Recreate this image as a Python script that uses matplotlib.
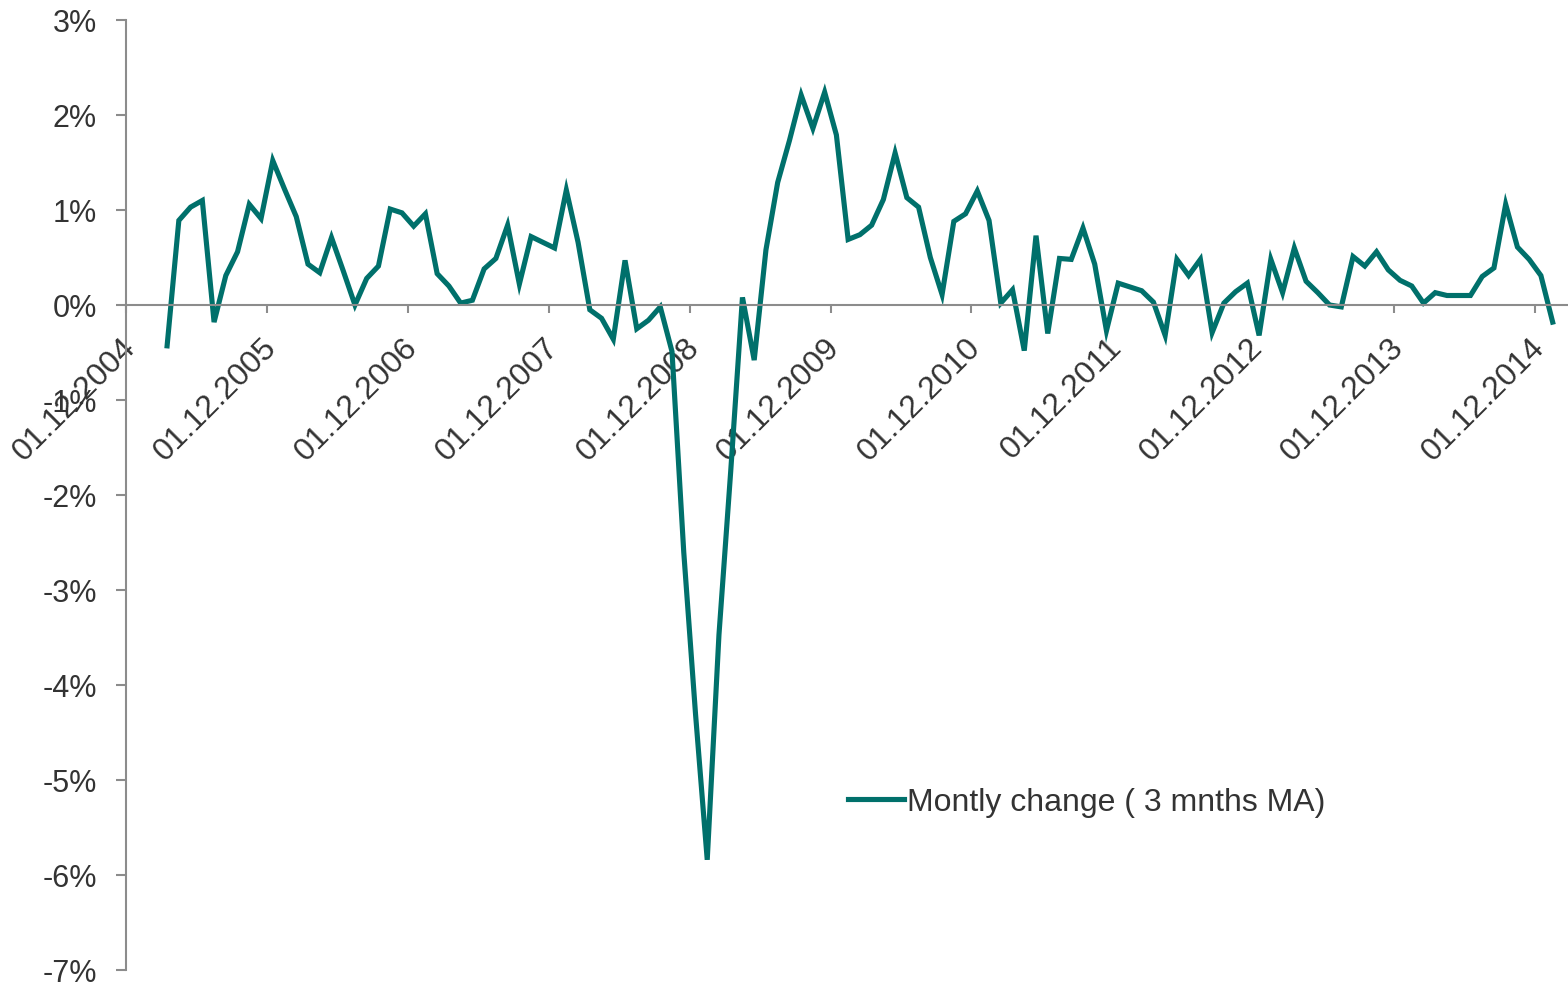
import matplotlib
matplotlib.use("Agg")
import matplotlib.pyplot as plt
import matplotlib.transforms as mtransforms
import numpy as np
import pandas as pd

plt.rcParams['font.family'] = ['Liberation Sans', 'DejaVu Sans']

# monthly observations, March 2005 .. January 2015 (percent)
dates = pd.date_range("2005-03-01", periods=119, freq="MS")
values = [
    -0.43, 0.89, 1.03, 1.10, -0.18, 0.31, 0.56, 1.06, 0.91, 1.52,
    1.22, 0.93, 0.43, 0.34, 0.71, 0.36, 0.00, 0.28, 0.41, 1.01,
    0.97, 0.83, 0.96, 0.33, 0.20, 0.02, 0.05, 0.38, 0.49, 0.84,
    0.22, 0.72, 0.66, 0.60, 1.21, 0.66, -0.05, -0.14, -0.36, 0.47,
    -0.25, -0.16, -0.02, -0.49, -2.60, -4.30, -5.84, -3.47, -1.75, 0.08,
    -0.58, 0.58, 1.29, 1.73, 2.21, 1.86, 2.24, 1.79, 0.69, 0.74,
    0.84, 1.11, 1.60, 1.13, 1.03, 0.50, 0.11, 0.88, 0.96, 1.20,
    0.89, 0.02, 0.16, -0.48, 0.73, -0.30, 0.49, 0.48, 0.81, 0.43,
    -0.27, 0.23, 0.19, 0.15, 0.03, -0.32, 0.48, 0.31, 0.48, -0.29,
    0.02, 0.14, 0.23, -0.32, 0.48, 0.13, 0.60, 0.25, 0.13, 0.00,
    -0.02, 0.51, 0.41, 0.56, 0.37, 0.26, 0.20, 0.02, 0.13, 0.10,
    0.10, 0.10, 0.30, 0.39, 1.06, 0.61, 0.48, 0.31, -0.18,
]
tick_labels = ["01.12.%d" % y for y in range(2004, 2015)]
y_ticks = list(range(-7, 4))

# months since December 2004, plotted mid-month
x = (dates.year - 2004) * 12 + (dates.month - 12) + 0.5

fig = plt.figure(figsize=(15.68, 9.87), dpi=100)
ax = fig.add_axes([126 / 1568, 16 / 987, 1 - 126 / 1568, 950 / 987])

grey = "#8c8c8c"
text_col = "#333333"

ax.plot(x, values, color="#00706b", lw=3.7, solid_joinstyle="miter",
        label="Montly change ( 3 mnths MA)")

ax.set_xlim(0, (1568 - 126) / 11.742)
ax.set_ylim(-7, 3)

ax.spines['top'].set_visible(False)
ax.spines['right'].set_visible(False)
ax.spines['bottom'].set_position(('data', 0))
for s in ('left', 'bottom'):
    ax.spines[s].set_color(grey)
    ax.spines[s].set_linewidth(1.5)

ax.set_yticks(y_ticks)
ax.set_yticklabels(["%d%%" % v for v in y_ticks])
ax.set_xticks(np.arange(0, 121, 12))
ax.set_xticklabels(tick_labels)

ax.tick_params(axis='y', direction='out', length=7, width=1.5, color=grey,
               labelsize=22, labelcolor=text_col, pad=14)
ax.tick_params(axis='x', direction='out', length=6, width=1.5, color=grey,
               labelsize=23, labelcolor=text_col, pad=21)

offset = mtransforms.ScaledTranslation(5 / 100, 0, fig.dpi_scale_trans)
for lab in ax.get_xticklabels():
    lab.set_rotation(45)
    lab.set_ha('right')
    lab.set_va('center')
    lab.set_rotation_mode('anchor')
    lab.set_transform(lab.get_transform() + offset)

leg = ax.legend(loc='center left', bbox_to_anchor=((848 - 126) / 1442, (971 - 803) / 950),
                frameon=False, fontsize=23, handlelength=1.75, handletextpad=0.1,
                borderpad=0, borderaxespad=0)
for t in leg.get_texts():
    t.set_color(text_col)

fig.savefig("out.png", dpi=100)
